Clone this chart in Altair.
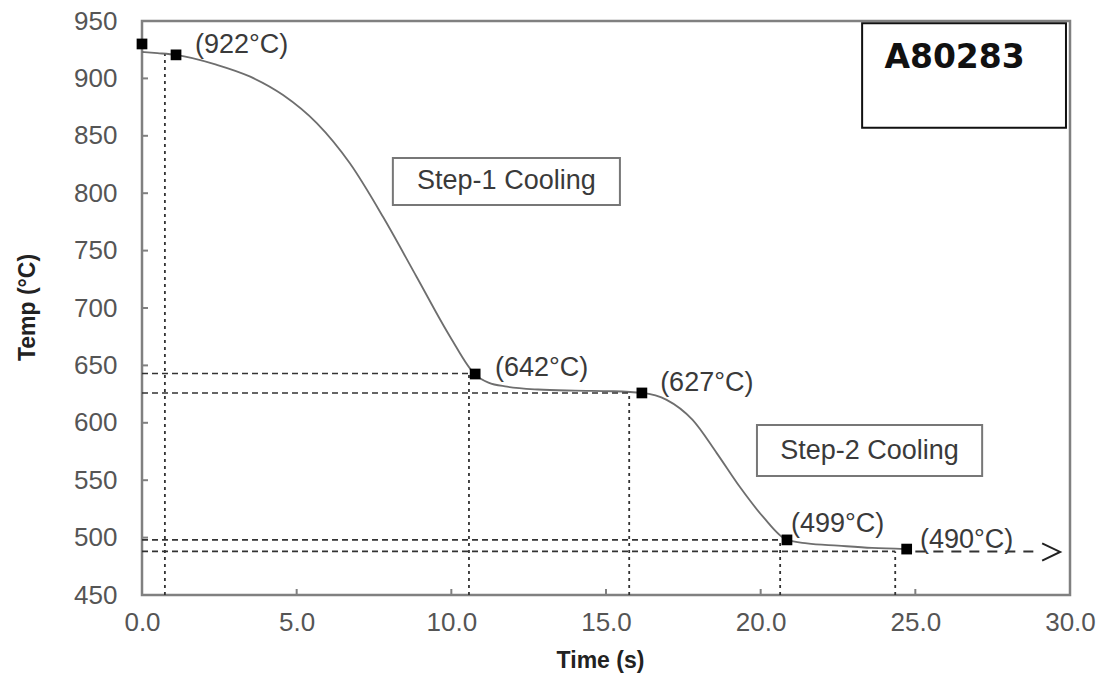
import altair as alt
import pandas as pd

# ---- data ----
curve_t = [0.0, 0.5, 1.1, 2.4, 3.5, 4.56, 5.65, 6.72, 7.8, 8.88, 9.96, 10.77,
           11.2, 11.8, 12.8, 14.0, 15.2, 16.16, 16.96, 17.8, 18.58, 19.33, 20.08,
           20.85, 21.5, 22.5, 23.6, 24.7]
curve_T = [923, 922, 920.5, 912, 901.5, 885.5, 861, 826, 779, 727, 675, 642,
           635, 631.5, 629, 628, 627.5, 626, 620, 602.5, 573.6, 544, 518,
           498, 495, 493, 491, 490]

marker_t = [0.0, 1.1, 10.77, 16.16, 20.85, 24.72]
marker_T = [930, 920.5, 642.5, 626, 498, 490]

label_text = ["(922°C)", "(642°C)", "(627°C)", "(499°C)", "(490°C)"]
label_t = [1.71, 11.41, 16.75, 20.98, 25.15]
label_T = [929, 648, 635, 511.5, 498]

hline_T = [643, 626, 498, 488]
hline_end = [10.57, 15.75, 20.63, 24.35]

vline_t = [0.74, 10.57, 15.75, 20.63, 24.35]
vline_top = [921, 643, 626, 498, 488]

arrow_t = [25.0, 29.03]
arrow_T = [488, 488]
chevron_t = [29.1, 29.68, 29.1]
chevron_T = [495, 487.5, 480]

box_name = ["Step-1 Cooling", "Step-2 Cooling"]
box_t0 = [8.11, 19.88]
box_t1 = [15.45, 27.16]
box_T0 = [830.7, 598]
box_T1 = [789.7, 553.7]

id_text = ["A80283"]
id_t0, id_t1, id_T0, id_T1 = [23.28], [29.87], [948], [857]
id_text_t, id_text_T = [24.0], [918]

x_ticks = [0, 5, 10, 15, 20, 25, 30]
y_ticks = [450, 500, 550, 600, 650, 700, 750, 800, 850, 900, 950]

FONT = "Liberation Sans"
xs = alt.Scale(domain=[0, 30], nice=False, zero=False)
ys = alt.Scale(domain=[450, 950], nice=False, zero=False)

x_axis = alt.Axis(
    values=x_ticks, format=".1f", ticks=False, domain=False, grid=False, labelFlush=False,
    labelFont=FONT, labelFontSize=26, labelColor="#555555", labelPadding=14,
    title="Time (s)", titleFont=FONT, titleFontSize=23, titleFontWeight="bold",
    titleColor="#222222", titleX=458, titleY=65, titleBaseline="middle")
y_axis = alt.Axis(
    values=y_ticks, ticks=False, domain=False, grid=False, labelFlush=False,
    labelFont=FONT, labelFontSize=26, labelColor="#555555", labelPadding=25,
    title="Temp (°C)", titleFont=FONT, titleFontSize=23, titleFontWeight="bold",
    titleColor="#222222", titleX=-115, titleY=286, titleAngle=270,
    titleAlign="center", titleBaseline="middle")

xsc = dict(scale=xs, axis=x_axis)
ysc = dict(scale=ys, axis=y_axis)

curve_df = pd.DataFrame({"t": curve_t, "T": curve_T})
base = alt.Chart(curve_df).mark_line(color="#6e6e6e", strokeWidth=1.8, interpolate="monotone").encode(
    x=alt.X("t:Q", **xsc), y=alt.Y("T:Q", **ysc))

ytick_layer = alt.Chart(pd.DataFrame({"v": y_ticks})).mark_rule(color="#808080", strokeWidth=2).encode(
    y=alt.Y("v:Q", **ysc), x=alt.value(0), x2=alt.value(6))
xtick_layer = alt.Chart(pd.DataFrame({"v": x_ticks})).mark_rule(color="#808080", strokeWidth=2).encode(
    x=alt.X("v:Q", **xsc), y=alt.value(574), y2=alt.value(568))

hdf = pd.DataFrame({"x0": [0] * len(hline_T), "x1": hline_end, "T": hline_T})
hlines = alt.Chart(hdf).mark_rule(color="#333333", strokeWidth=1.6, strokeDash=[6, 4]).encode(
    x=alt.X("x0:Q", **xsc), x2="x1:Q", y=alt.Y("T:Q", **ysc))

vdf = pd.DataFrame({"t": vline_t, "lo": [450] * len(vline_t), "hi": vline_top})
vlines = alt.Chart(vdf).mark_rule(color="#333333", strokeWidth=1.8, strokeDash=[3, 4]).encode(
    x=alt.X("t:Q", **xsc), y=alt.Y("lo:Q", **ysc), y2="hi:Q")

adf = pd.DataFrame({"t": arrow_t, "T": arrow_T})
arrow = alt.Chart(adf).mark_line(color="#333333", strokeWidth=2, strokeDash=[10, 8]).encode(
    x=alt.X("t:Q", **xsc), y=alt.Y("T:Q", **ysc))
cdf = pd.DataFrame({"t": chevron_t, "T": chevron_T, "o": [0, 1, 2]})
chevron = alt.Chart(cdf).mark_line(color="#222222", strokeWidth=2).encode(
    x=alt.X("t:Q", **xsc), y=alt.Y("T:Q", **ysc), order="o:Q")

mdf = pd.DataFrame({"t": marker_t, "T": marker_T})
markers = alt.Chart(mdf).mark_square(size=115, color="black", opacity=1).encode(
    x=alt.X("t:Q", **xsc), y=alt.Y("T:Q", **ysc))

ldf = pd.DataFrame({"txt": label_text, "t": label_t, "T": label_T})
labels = alt.Chart(ldf).mark_text(align="left", baseline="middle", font=FONT, fontSize=27,
                                  color="#3a3a3a").encode(
    x=alt.X("t:Q", **xsc), y=alt.Y("T:Q", **ysc), text="txt:N")

bdf = pd.DataFrame({"name": box_name, "t0": box_t0, "t1": box_t1, "T0": box_T0, "T1": box_T1})
bdf["tc"] = (bdf["t0"] + bdf["t1"]) / 2
bdf["Tc"] = (bdf["T0"] + bdf["T1"]) / 2
boxes = alt.Chart(bdf).mark_rect(fill="white", stroke="#777777", strokeWidth=2).encode(
    x=alt.X("t0:Q", **xsc), x2="t1:Q", y=alt.Y("T0:Q", **ysc), y2="T1:Q")
box_text = alt.Chart(bdf).mark_text(align="center", baseline="middle", font=FONT, fontSize=27,
                                    color="#3a3a3a").encode(
    x=alt.X("tc:Q", **xsc), y=alt.Y("Tc:Q", **ysc), text="name:N")

idf = pd.DataFrame({"txt": id_text, "t0": id_t0, "t1": id_t1, "T0": id_T0, "T1": id_T1,
                    "tx": id_text_t, "Tx": id_text_T})
id_box = alt.Chart(idf).mark_rect(fill="white", stroke="#111111", strokeWidth=2).encode(
    x=alt.X("t0:Q", **xsc), x2="t1:Q", y=alt.Y("T0:Q", **ysc), y2="T1:Q")
id_label = alt.Chart(idf).mark_text(align="left", baseline="middle", font="DejaVu Sans",
                                    fontWeight="bold", fontSize=33, color="#111111").encode(
    x=alt.X("tx:Q", **xsc), y=alt.Y("Tx:Q", **ysc), text="txt:N")

chart = alt.layer(
    base, ytick_layer, xtick_layer, hlines, vlines, arrow, chevron,
    markers, labels, boxes, box_text, id_box, id_label
).properties(
    width=928, height=574,
    padding={"left": 142, "top": 21, "right": 36, "bottom": 79},
    autosize=alt.AutoSizeParams(type="none"),
    background="white",
).configure_view(stroke="#808080", strokeWidth=2.5)

chart.save("out.html", embed_options={"renderer": "svg", "actions": False})
